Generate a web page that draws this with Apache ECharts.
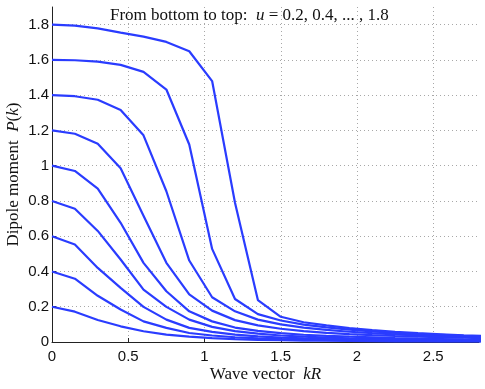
<!DOCTYPE html>
<html><head><meta charset="utf-8">
<script src="https://cdn.jsdelivr.net/npm/echarts@6/dist/echarts.min.js"></script>
<style>html,body{margin:0;padding:0;background:#fff}#c{width:485px;height:389px}</style>
</head><body><div id="c"></div>
<script>
// Wave vector kR
const kValues = [0, 0.15, 0.3, 0.45, 0.6, 0.75, 0.9, 1.05, 1.2, 1.35, 1.5, 1.65, 1.8, 1.95, 2.1, 2.25, 2.4, 2.55, 2.7, 2.85];
// Dipole moment P(k) for u = 0.2 ... 1.8
const p_u02 = [0.2, 0.172, 0.125, 0.089, 0.061, 0.042, 0.030, 0.022, 0.016, 0.012, 0.010, 0.008, 0.007, 0.006, 0.005, 0.004, 0.004, 0.003, 0.003, 0.003];
const p_u04 = [0.4, 0.359, 0.262, 0.184, 0.117, 0.080, 0.051, 0.037, 0.027, 0.021, 0.016, 0.013, 0.011, 0.009, 0.008, 0.007, 0.006, 0.005, 0.005, 0.004];
const p_u06 = [0.6, 0.553, 0.42, 0.307, 0.199, 0.127, 0.080, 0.057, 0.042, 0.032, 0.025, 0.020, 0.017, 0.014, 0.012, 0.011, 0.009, 0.008, 0.007, 0.007];
const p_u08 = [0.8, 0.756, 0.63, 0.468, 0.297, 0.199, 0.127, 0.086, 0.062, 0.047, 0.037, 0.030, 0.025, 0.021, 0.018, 0.016, 0.014, 0.012, 0.011, 0.010];
const p_u10 = [1.0, 0.97, 0.87, 0.676, 0.449, 0.288, 0.174, 0.117, 0.082, 0.063, 0.050, 0.041, 0.035, 0.030, 0.026, 0.022, 0.019, 0.017, 0.015, 0.014];
const p_u12 = [1.2, 1.181, 1.125, 0.985, 0.716, 0.449, 0.27, 0.178, 0.124, 0.094, 0.075, 0.062, 0.052, 0.045, 0.039, 0.034, 0.030, 0.027, 0.024, 0.021];
const p_u14 = [1.4, 1.394, 1.374, 1.316, 1.172, 0.855, 0.462, 0.254, 0.174, 0.127, 0.100, 0.082, 0.069, 0.058, 0.050, 0.043, 0.038, 0.033, 0.030, 0.027];
const p_u16 = [1.6, 1.598, 1.590, 1.572, 1.532, 1.432, 1.12, 0.528, 0.244, 0.158, 0.122, 0.099, 0.083, 0.070, 0.060, 0.052, 0.045, 0.040, 0.035, 0.031];
const p_u18 = [1.8, 1.794, 1.779, 1.755, 1.732, 1.702, 1.649, 1.48, 0.79, 0.238, 0.143, 0.112, 0.094, 0.079, 0.067, 0.058, 0.050, 0.044, 0.038, 0.034];
const seriesNames = ['u=0.2','u=0.4','u=0.6','u=0.8','u=1.0','u=1.2','u=1.4','u=1.6','u=1.8'];
const seriesValues = [p_u02, p_u04, p_u06, p_u08, p_u10, p_u12, p_u14, p_u16, p_u18];

const serif = "'Liberation Serif', 'DejaVu Serif', serif";
const sans = "'Liberation Sans', Arial, sans-serif";
const chart = echarts.init(document.getElementById('c'), null, {renderer: 'canvas'});
const axisCommon = {
  type: 'value',
  axisLine: {show: true, lineStyle: {color: '#222', width: 1}},
  axisTick: {show: true, inside: true, length: 4, lineStyle: {color: '#222'}},
  axisLabel: {fontFamily: sans, fontSize: 15, color: '#111', showMaxLabel: false},
  splitLine: {show: true, showMinLine: false, showMaxLine: false, lineStyle: {type: [1, 3], color: '#a8a8a8', width: 1}}
};
const nameRich = {
  n: {fontFamily: serif, fontSize: 17, color: '#111'},
  i: {fontFamily: serif, fontSize: 17, fontStyle: 'italic', color: '#111'}
};
chart.setOption({
  animation: false,
  backgroundColor: '#fff',
  title: {
    text: '{n|From bottom to top:  }{i|u}{n| = 0.2, 0.4, ... , 1.8}',
    left: 110, top: 6, padding: 0,
    textStyle: {
      fontWeight: 'normal',
      rich: {
        n: {fontFamily: serif, fontSize: 17, fontWeight: 'normal', color: '#111', lineHeight: 19},
        i: {fontFamily: serif, fontSize: 17, fontWeight: 'normal', fontStyle: 'italic', color: '#111', lineHeight: 19}
      }
    }
  },
  grid: {left: 52, right: 6, top: 7, bottom: 47, containLabel: false, outerBoundsMode: 'none'},
  xAxis: Object.assign({}, axisCommon, {
    min: 0, max: 2.8, interval: 0.5,
    axisLabel: Object.assign({}, axisCommon.axisLabel, {margin: 7}),
    name: '{n|Wave vector  }{i|kR}', nameLocation: 'middle', nameGap: 24, nameMoveOverlap: false,
    nameTextStyle: {fontFamily: serif, fontSize: 17, color: '#111', rich: nameRich}
  }),
  yAxis: Object.assign({}, axisCommon, {
    min: 0, max: 1.9, interval: 0.2,
    axisLabel: Object.assign({}, axisCommon.axisLabel, {margin: 3}),
    name: '{n|Dipole moment  }{i|P}{n|(}{i|k}{n|)}', nameLocation: 'middle', nameGap: 30, nameMoveOverlap: false,
    nameTextStyle: {fontFamily: serif, fontSize: 17, color: '#111', rich: nameRich}
  }),
  series: seriesValues.map((vals, i) => ({
    name: seriesNames[i],
    type: 'line',
    symbol: 'none',
    clip: true,
    lineStyle: {width: 2.2, color: '#2a3cff'},
    data: kValues.map((k, j) => [k, vals[j]])
  }))
});
</script></body></html>
